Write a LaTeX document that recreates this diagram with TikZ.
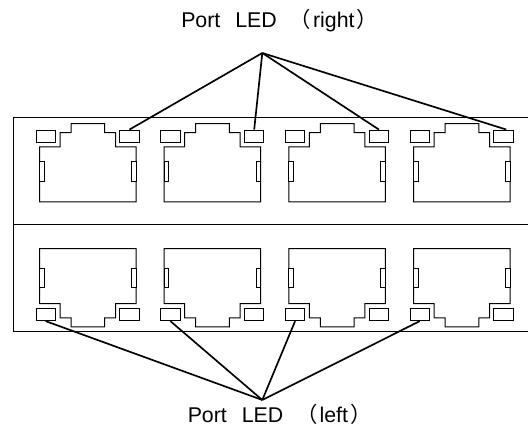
\documentclass[tikz,border=0pt]{standalone}
\usepackage{fontspec}
\setmainfont{Liberation Sans}
\newfontfamily\cjk{Noto Sans CJK SC}
\begin{document}
\begin{tikzpicture}[x=0.75pt,y=-0.75pt,
    panel/.style = {line width=0.75pt},
    port/.style = {line width=0.75pt,fill=white},
    led/.style = {draw,line width=0.75pt,inner sep=0pt,minimum width=14.5pt,minimum height=9.2pt},
    lead/.style = {line width=1.25pt},
    caption/.style = {font=\fontsize{16pt}{18pt}\selectfont,anchor=base west}]
    \useasboundingbox (0,0) rectangle (528,427);

    % Panel

    \draw[panel] (528,118) -- (13,118) -- (13,332) -- (528,332);
    \draw[panel] (13,225) -- (528,225);

    % Upper row

    \draw[port] (39.5,147) -- ++(20.5,0) -- ++(0,-14.3) -- ++(11,0) -- ++(0,-9) -- ++(33.7,0) -- ++(0,9) -- ++(10.8,0) -- ++(0,14.3) -- ++(20.5,0) -- ++(0,55) -- ++(-96.5,0) -- cycle;
    \draw[port] (164.2,147) -- ++(20.5,0) -- ++(0,-14.3) -- ++(11,0) -- ++(0,-9) -- ++(33.7,0) -- ++(0,9) -- ++(10.8,0) -- ++(0,14.3) -- ++(20.5,0) -- ++(0,55) -- ++(-96.5,0) -- cycle;
    \draw[port] (288.9,147) -- ++(20.5,0) -- ++(0,-14.3) -- ++(11,0) -- ++(0,-9) -- ++(33.7,0) -- ++(0,9) -- ++(10.8,0) -- ++(0,14.3) -- ++(20.5,0) -- ++(0,55) -- ++(-96.5,0) -- cycle;
    \draw[port] (413.7,147) -- ++(20.5,0) -- ++(0,-14.3) -- ++(11,0) -- ++(0,-9) -- ++(33.7,0) -- ++(0,9) -- ++(10.8,0) -- ++(0,14.3) -- ++(20.5,0) -- ++(0,55) -- ++(-96.5,0) -- cycle;

    \draw[port] (39.5,162) rectangle ++(4.5,19.7);
    \draw[port] (131.5,162) rectangle ++(4.5,19.7);
    \draw[port] (164.2,162) rectangle ++(4.5,19.7);
    \draw[port] (256.2,162) rectangle ++(4.5,19.7);
    \draw[port] (288.9,162) rectangle ++(4.5,19.7);
    \draw[port] (380.9,162) rectangle ++(4.5,19.7);
    \draw[port] (413.7,162) rectangle ++(4.5,19.7);
    \draw[port] (505.7,162) rectangle ++(4.5,19.7);

    \node[led] (ledA) at (45.7,136.2) {};
    \node[led] (ledB) at (170.4,136.2) {};
    \node[led] (ledC) at (295.1,136.2) {};
    \node[led] (ledD) at (419.8,136.2) {};

    \node[led] (ledRightA) at (129.5,136.2) {};
    \node[led] (ledRightB) at (254.2,136.2) {};
    \node[led] (ledRightC) at (378.9,136.2) {};
    \node[led] (ledRightD) at (503.6,136.2) {};

    % Lower row

    \draw[port] (39.5,303.7) -- ++(20.5,0) -- ++(0,14.3) -- ++(11,0) -- ++(0,9) -- ++(33.7,0) -- ++(0,-9) -- ++(10.8,0) -- ++(0,-14.3) -- ++(20.5,0) -- ++(0,-55) -- ++(-96.5,0) -- cycle;
    \draw[port] (164.2,303.7) -- ++(20.5,0) -- ++(0,14.3) -- ++(11,0) -- ++(0,9) -- ++(33.7,0) -- ++(0,-9) -- ++(10.8,0) -- ++(0,-14.3) -- ++(20.5,0) -- ++(0,-55) -- ++(-96.5,0) -- cycle;
    \draw[port] (288.9,303.7) -- ++(20.5,0) -- ++(0,14.3) -- ++(11,0) -- ++(0,9) -- ++(33.7,0) -- ++(0,-9) -- ++(10.8,0) -- ++(0,-14.3) -- ++(20.5,0) -- ++(0,-55) -- ++(-96.5,0) -- cycle;
    \draw[port] (413.7,303.7) -- ++(20.5,0) -- ++(0,14.3) -- ++(11,0) -- ++(0,9) -- ++(33.7,0) -- ++(0,-9) -- ++(10.8,0) -- ++(0,-14.3) -- ++(20.5,0) -- ++(0,-55) -- ++(-96.5,0) -- cycle;

    \draw[port] (39.5,268.3) rectangle ++(4.5,19.4);
    \draw[port] (131.5,268.3) rectangle ++(4.5,19.4);
    \draw[port] (164.2,268.3) rectangle ++(4.5,19.4);
    \draw[port] (256.2,268.3) rectangle ++(4.5,19.4);
    \draw[port] (288.9,268.3) rectangle ++(4.5,19.4);
    \draw[port] (380.9,268.3) rectangle ++(4.5,19.4);
    \draw[port] (413.7,268.3) rectangle ++(4.5,19.4);
    \draw[port] (505.7,268.3) rectangle ++(4.5,19.4);

    \node[led] (ledLeftA) at (45.7,314.5) {};
    \node[led] (ledLeftB) at (170.4,314.5) {};
    \node[led] (ledLeftC) at (295.1,314.5) {};
    \node[led] (ledLeftD) at (419.8,314.5) {};

    \node[led] (ledE) at (129.5,314.5) {};
    \node[led] (ledF) at (254.2,314.5) {};
    \node[led] (ledG) at (378.9,314.5) {};
    \node[led] (ledH) at (503.6,314.5) {};

    % Labels

    \node[caption,inner sep=0pt] (labelRight) at (181,28) {Port\hspace{0.7em}LED\hspace{0.6em}{\cjk （}\hspace{0.1em}right\hspace{0.1em}{\cjk ）}};
    \node[caption,inner sep=0pt] (labelLeft) at (187.5,422.5) {Port\hspace{0.7em}LED\hspace{0.6em}{\cjk （}\hspace{0.1em}left\hspace{0.1em}{\cjk ）}};

    \coordinate (hubRight) at (262.3,53);
    \coordinate (hubLeft) at (262.3,400);

    \draw[lead] (hubRight) -- (ledRightA.north);
    \draw[lead] (hubRight) -- (ledRightB.north);
    \draw[lead] (hubRight) -- (ledRightC.north);
    \draw[lead] (hubRight) -- ([xshift=2pt]ledRightD.north);

    \draw[lead] (hubLeft) -- (ledLeftA.south);
    \draw[lead] (hubLeft) -- (ledLeftB.south);
    \draw[lead] (hubLeft) -- (ledLeftC.south);
    \draw[lead] (hubLeft) -- (ledLeftD.south);
\end{tikzpicture}
\end{document}
